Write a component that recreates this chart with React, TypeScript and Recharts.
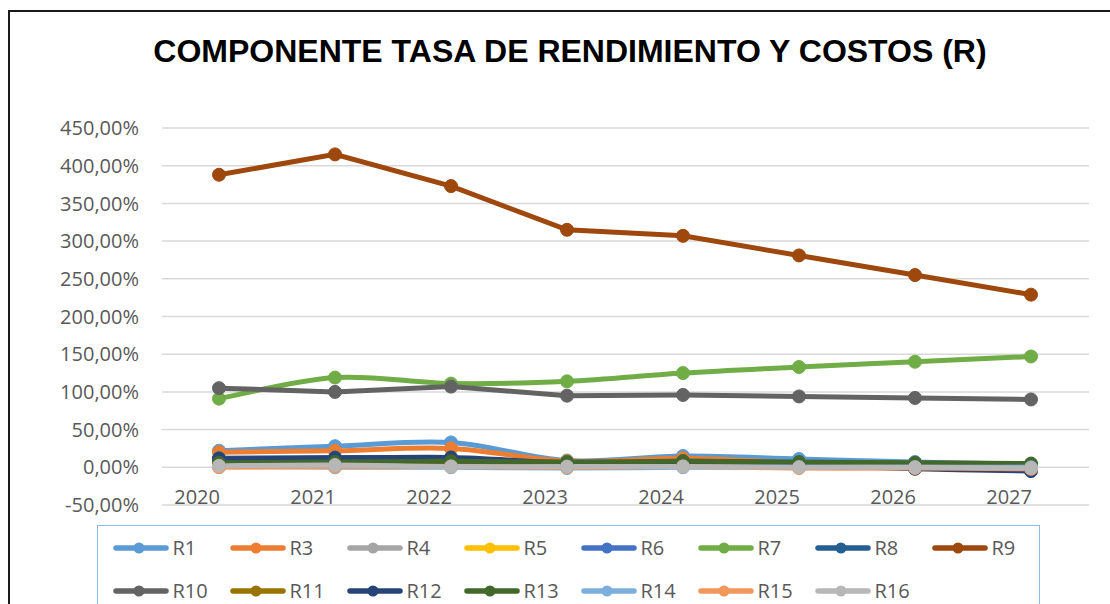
import React from 'react';
import { LineChart, Line, XAxis, YAxis, CartesianGrid, Legend } from 'recharts';

const years = ['2020', '2021', '2022', '2023', '2024', '2025', '2026', '2027'];
const yTicks = [-50, 0, 50, 100, 150, 200, 250, 300, 350, 400, 450];

const R1 = [22, 28, 33, 9, 15, 11, 7, 4];
const R3 = [20, 22, 25, 8, 12, 6, 3, -1];
const R4 = [2, 2, 1, 1, 1, 1, 0, 0];
const R5 = [3, 3, 2, 2, 2, 2, 2, 3];
const R6 = [2, 2, 2, 1, 1, 1, 0, 0];
const R7 = [91, 119, 111, 114, 125, 133, 140, 147];
const R8 = [12, 13, 12, 5, 8, 6, 4, 2];
const R9 = [388, 415, 373, 315, 307, 281, 255, 229];
const R10 = [105, 100, 107, 95, 96, 94, 92, 90];
const R11 = [4, 5, 4, 3, 5, 4, 3, 3];
const R12 = [11, 12, 13, 6, 6, 3, -2, -5];
const R13 = [6, 7, 8, 7, 8, 7, 6, 5];
const R14 = [1, 0, 0, -1, 0, 0, 0, 0];
const R15 = [0, 1, 1, 0, 1, -1, -1, -2];
const R16 = [2, 3, 1, 1, 1, 0, 0, -1];

const seriesNames = ['R1', 'R3', 'R4', 'R5', 'R6', 'R7', 'R8', 'R9', 'R10', 'R11', 'R12', 'R13', 'R14', 'R15', 'R16'];
const seriesValues = [R1, R3, R4, R5, R6, R7, R8, R9, R10, R11, R12, R13, R14, R15, R16];
const seriesColors = ['#5b9bd5', '#ed7d31', '#a5a5a5', '#ffc000', '#4472c4', '#70ad47', '#255e91', '#9e480e', '#636363', '#997300', '#264478', '#43682b', '#7cafdd', '#f1975a', '#b7b7b7'];
const seriesSmooth = [true, true, true, true, true, true, true, false, false, true, true, true, true, true, true];

const data = years.map((y, i) => {
  const row: Record<string, number | string> = { year: y };
  seriesNames.forEach((n, k) => {
    row[n] = seriesValues[k][i];
  });
  return row;
});

// Catmull-Rom style smoothing similar to Excel's smoothed lines
function smoothCurve(context: any) {
  let pts: number[][] = [];
  return {
    areaStart() {},
    areaEnd() {},
    lineStart() {
      pts = [];
    },
    lineEnd() {
      const n = pts.length;
      if (!n) return;
      context.moveTo(pts[0][0], pts[0][1]);
      for (let i = 0; i < n - 1; i++) {
        const p0 = pts[i - 1] || pts[i];
        const p1 = pts[i];
        const p2 = pts[i + 1];
        const p3 = pts[i + 2] || p2;
        const t = 1 / 6;
        context.bezierCurveTo(
          p1[0] + (p2[0] - p0[0]) * t,
          p1[1] + (p2[1] - p0[1]) * t,
          p2[0] - (p3[0] - p1[0]) * t,
          p2[1] - (p3[1] - p1[1]) * t,
          p2[0],
          p2[1]
        );
      }
    },
    point(x: number, y: number) {
      pts.push([+x, +y]);
    },
  };
}

const fmt = (v: number) => `${v.toFixed(2).replace('.', ',')}%`;

const LegendBox = () => (
  <div
    style={{
      width: 943,
      height: 100,
      boxSizing: 'border-box',
      border: '1.5px solid #8dbbe4',
      background: '#fff',
      paddingLeft: 14.5,
      display: 'grid',
      gridTemplateColumns: 'repeat(8, 117px)',
      gridAutoRows: '43px',
      fontFamily: '"Open Sans", sans-serif',
      fontSize: 20,
      color: '#595959',
    }}
  >
    {seriesNames.map((n, k) => (
      <div key={n} style={{ display: 'flex', alignItems: 'center', height: 43 }}>
        <svg width={56} height={14} style={{ display: 'block' }}>
          <line x1={3} y1={7} x2={53} y2={7} stroke={seriesColors[k]} strokeWidth={5.5} strokeLinecap="round" />
          <circle cx={26} cy={7} r={5.5} fill={seriesColors[k]} />
        </svg>
        <span style={{ marginLeft: 4, lineHeight: '20px' }}>{n}</span>
      </div>
    ))}
  </div>
);

const XTick = (props: any) => {
  const { x, payload } = props;
  return (
    <text x={x + 1} y={504} textAnchor="end" fill="#595959" fontSize={20} fontFamily='"Open Sans", sans-serif'>
      {payload.value}
    </text>
  );
};

export default function App() {
  return (
    <div
      style={{
        position: 'absolute',
        left: 0,
        top: 0,
        width: 1110,
        height: 604,
        overflow: 'hidden',
        background: '#fff',
      }}
    >
      <div
        style={{
          position: 'absolute',
          left: 8,
          top: 10,
          width: 1300,
          height: 800,
          border: '2px solid #1a1a1a',
        }}
      />
      <div
        style={{
          position: 'absolute',
          left: 0,
          top: 35,
          width: 1140,
          textAlign: 'center',
          fontFamily: '"Liberation Sans", Arial, sans-serif',
          fontWeight: 'bold',
          fontSize: 32,
          lineHeight: '32px',
          color: '#000',
          whiteSpace: 'nowrap',
        }}
      >
        COMPONENTE TASA DE RENDIMIENTO Y COSTOS (R)
      </div>
      <div style={{ position: 'absolute', left: 0, top: 0 }}>
        <LineChart width={1110} height={604} data={data} margin={{ top: 128, right: 21, bottom: 69, left: 0 }}>
          <CartesianGrid vertical={false} stroke="#d9d9d9" strokeWidth={1.5} />
          <XAxis
            dataKey="year"
            height={30}
            axisLine={false}
            tickLine={false}
            padding={{ left: 57, right: 58 }}
            tick={<XTick />}
            interval={0}
          />
          <YAxis
            width={162}
            domain={[-50, 450]}
            ticks={yTicks}
            tickFormatter={fmt}
            axisLine={false}
            tickLine={false}
            tickSize={6}
            tickMargin={17}
            interval={0}
            tick={{ fill: '#595959', fontSize: 20, fontFamily: '"Open Sans", sans-serif' }}
          />
          {seriesNames.map((n, k) => (
            <Line
              key={n}
              dataKey={n}
              type={seriesSmooth[k] ? (smoothCurve as any) : 'linear'}
              stroke={seriesColors[k]}
              strokeWidth={5}
              dot={{ r: 6.5, fill: seriesColors[k], stroke: seriesColors[k], strokeWidth: 1 }}
              activeDot={false}
              isAnimationActive={false}
            />
          ))}
          <Legend
            content={() => <LegendBox />}
            wrapperStyle={{ position: 'absolute', left: 97, top: 525, width: 943, height: 0, margin: 0, padding: 0 }}
          />
        </LineChart>
      </div>
    </div>
  );
}
